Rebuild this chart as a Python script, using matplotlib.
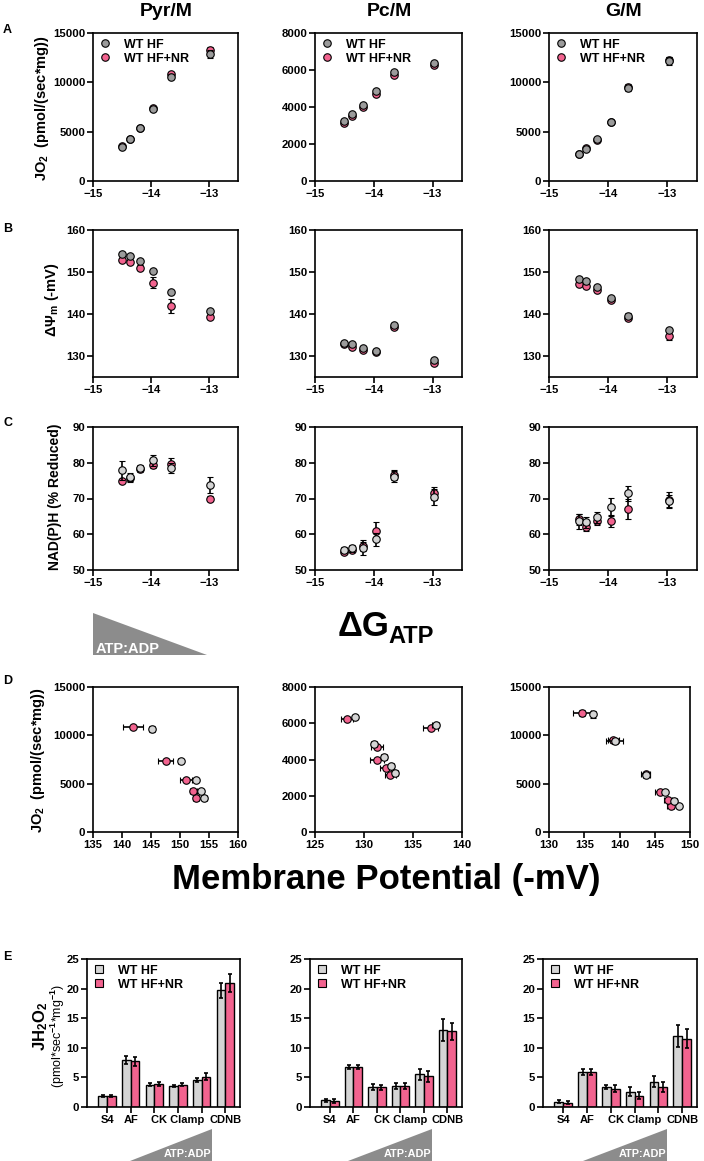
"""
 Recreation of a multi-panel respirometry figure (JO2, membrane potential,
 NAD(P)H redox and H2O2 emission for WT HF vs WT HF+NR)
"""

# Libraries
import matplotlib
matplotlib.use("Agg")
import matplotlib.pyplot as plt
from matplotlib.lines import Line2D
from matplotlib.patches import Polygon
import numpy as np

# Constants
W, H       = 704, 1161
GREY_DARK  = "#9b9b9b"
GREY_LIGHT = "#d4d4d4"
PINK       = "#f2638f"
TRI_COLOUR = "#8c8c8c"
MS         = 5.4

plt.rcParams["font.family"] = ["Liberation Sans", "DejaVu Sans"]
plt.rcParams["font.weight"] = "bold"
plt.rcParams["mathtext.fontset"] = "custom"
plt.rcParams["mathtext.rm"] = "Liberation Sans:bold"
plt.rcParams["mathtext.bf"] = "Liberation Sans:bold"
plt.rcParams["mathtext.it"] = "Liberation Sans:bold:italic"

# ---------------- Data ----------------
# Free energy of ATP hydrolysis (x for rows A-C)
dg_x = [-14.50, -14.37, -14.19, -13.96, -13.66, -12.98]

# Row A: JO2 (pmol/(sec*mg))
a_pyr_hf, a_pyr_hf_err = [3480, 4270, 5350, 7270, 10570, 12850], [100, 100, 120, 200, 250, 400]
a_pyr_nr, a_pyr_nr_err = [3500, 4300, 5400, 7350, 10850, 13300], [100, 100, 120, 200, 200, 250]
a_pc_hf,  a_pc_hf_err  = [3260, 3600, 4130, 4850, 5900, 6370], [80, 80, 80, 90, 100, 80]
a_pc_nr,  a_pc_nr_err  = [3150, 3500, 3980, 4700, 5750, 6280], [80, 80, 80, 90, 100, 80]
a_gm_hf,  a_gm_hf_err  = [2710, 3260, 4210, 5940, 9400, 12180], [100, 100, 100, 150, 300, 400]
a_gm_nr,  a_gm_nr_err  = [2750, 3300, 4200, 5950, 9550, 12300], [100, 100, 100, 150, 250, 300]

# Row B: membrane potential (-mV)
b_pyr_hf, b_pyr_hf_err = [154.3, 153.7, 152.7, 150.2, 145.2, 140.6], [0.4, 0.4, 0.4, 0.4, 0.4, 0.4]
b_pyr_nr, b_pyr_nr_err = [152.8, 152.4, 151.0, 147.5, 141.9, 139.3], [0.5, 0.5, 0.6, 1.2, 1.6, 0.5]
b_pc_hf,  b_pc_hf_err  = [133.2, 132.8, 132.0, 131.3, 137.3, 129.0], [0.3, 0.3, 0.3, 0.3, 0.4, 0.3]
b_pc_nr,  b_pc_nr_err  = [132.8, 132.2, 131.4, 131.0, 136.8, 128.4], [0.3, 0.3, 0.3, 0.3, 0.4, 0.3]
b_gm_hf,  b_gm_hf_err  = [148.3, 147.8, 146.4, 143.8, 139.5, 136.2], [0.4, 0.4, 0.4, 0.4, 0.8, 0.4]
b_gm_nr,  b_gm_nr_err  = [147.2, 146.7, 145.6, 143.4, 139.1, 134.8], [0.4, 0.4, 0.4, 0.4, 0.6, 1.0]

# Row C: NAD(P)H (% reduced)
c_pyr_hf, c_pyr_hf_err = [77.9, 76.0, 78.5, 80.7, 78.5, 73.7], [2.6, 1.0, 0.8, 1.5, 1.5, 2.3]
c_pyr_nr, c_pyr_nr_err = [74.8, 75.6, 78.3, 79.3, 79.7, 70.0], [0.6, 1.0, 0.8, 0.8, 1.5, 0.6]
c_pc_hf,  c_pc_hf_err  = [55.6, 56.1, 56.1, 58.6, 76.1, 70.5], [0.8, 1.0, 1.8, 1.8, 1.6, 2.2]
c_pc_nr,  c_pc_nr_err  = [55.0, 55.7, 56.8, 61.0, 76.6, 71.4], [0.6, 0.8, 1.5, 2.3, 1.3, 1.8]
c_gm_hf,  c_gm_hf_err  = [63.6, 63.3, 64.7, 67.6, 71.4, 69.2], [2.0, 1.6, 1.6, 2.6, 2.0, 1.8]
c_gm_nr,  c_gm_nr_err  = [64.2, 62.0, 63.6, 63.7, 67.0, 69.7], [1.5, 1.0, 1.0, 1.8, 2.8, 2.0]

# Row D: JO2 vs membrane potential
d_pyr_hf_x, d_pyr_hf_xerr = [154.2, 153.6, 152.7, 150.1, 145.2], [0.4, 0.4, 0.3, 0.5, 0.3]
d_pyr_hf_y, d_pyr_hf_yerr = [3480, 4260, 5350, 7300, 10640], [100, 100, 100, 200, 300]
d_pyr_nr_x, d_pyr_nr_xerr = [152.8, 152.3, 151.0, 147.5, 141.9], [0.5, 0.6, 1.0, 1.3, 1.7]
d_pyr_nr_y, d_pyr_nr_yerr = [3480, 4260, 5390, 7330, 10840], [100, 100, 100, 150, 150]
d_pc_hf_x,  d_pc_hf_xerr  = [133.2, 132.8, 132.0, 131.0, 137.3, 129.1], [0.3, 0.3, 0.3, 0.3, 0.4, 0.2]
d_pc_hf_y,  d_pc_hf_yerr  = [3260, 3640, 4140, 4870, 5920, 6370], [80, 80, 80, 90, 100, 80]
d_pc_nr_x,  d_pc_nr_xerr  = [132.7, 132.2, 131.3, 131.3, 136.8, 128.3], [0.6, 0.6, 0.7, 0.6, 0.8, 0.6]
d_pc_nr_y,  d_pc_nr_yerr  = [3150, 3510, 3980, 4690, 5760, 6260], [80, 80, 80, 90, 100, 80]
d_gm_hf_x,  d_gm_hf_xerr  = [148.4, 147.8, 146.5, 143.8, 139.3, 136.25], [0.3, 0.3, 0.3, 0.5, 1.2, 0.3]
d_gm_hf_y,  d_gm_hf_yerr  = [2670, 3220, 4160, 5920, 9420, 12160], [100, 100, 100, 200, 300, 400]
d_gm_nr_x,  d_gm_nr_xerr  = [147.3, 146.9, 145.7, 143.7, 139.1, 134.7], [0.5, 0.6, 0.7, 0.6, 0.8, 1.3]
d_gm_nr_y,  d_gm_nr_yerr  = [2700, 3290, 4160, 5950, 9500, 12330], [100, 100, 100, 150, 250, 300]

# Row E: JH2O2 bars
e_groups = ["S4", "AF", "", "CK Clamp", "", "CDNB"]
e_pyr_hf, e_pyr_hf_err = [1.87, 7.9, 3.8, 3.56, 4.58, 19.7], [0.15, 0.7, 0.2, 0.2, 0.4, 1.3]
e_pyr_nr, e_pyr_nr_err = [1.85, 7.7, 3.85, 3.8, 5.1, 20.9], [0.15, 0.7, 0.3, 0.2, 0.6, 1.5]
e_pc_hf,  e_pc_hf_err  = [1.13, 6.8, 3.4, 3.56, 5.5, 13.0], [0.3, 0.35, 0.45, 0.55, 0.9, 1.9]
e_pc_nr,  e_pc_nr_err  = [1.0, 6.7, 3.3, 3.5, 5.2, 12.8], [0.35, 0.35, 0.4, 0.5, 0.9, 1.4]
e_gm_hf,  e_gm_hf_err  = [0.9, 5.94, 3.4, 2.6, 4.3, 12.0], [0.3, 0.5, 0.4, 0.7, 0.9, 1.9]
e_gm_nr,  e_gm_nr_err  = [0.75, 5.85, 3.1, 1.9, 3.35, 11.5], [0.3, 0.5, 0.55, 0.6, 0.9, 1.6]

# ---------------- Helpers ----------------
fig = plt.figure(figsize=(W/100, H/100), dpi=100)

def fx(x): return x/W
def fy(y): return 1 - y/H

def add_axes(x0, y0, x1, y1):
    """Adds axes using pixel bounds measured from the top-left corner"""
    ax = fig.add_axes([fx(x0), fy(y1), (x1-x0)/W, (y1-y0)/H])
    for spine in ax.spines.values():
        spine.set_linewidth(1.2)
    ax.tick_params(direction="out", length=4, width=1.2, labelsize=8.2, pad=1.5)
    return ax

def scatter_pair(ax, x_hf, y_hf, x_nr, y_nr, grey, xerr_hf=None, yerr_hf=None, xerr_nr=None, yerr_nr=None):
    """Plots the NR group underneath the HF group with error bars"""
    style = dict(fmt="o", ms=MS, mec="black", mew=0.8, ecolor="black", elinewidth=1.2, capsize=2, capthick=1.2)
    ax.errorbar(x_nr, y_nr, xerr=xerr_nr, yerr=yerr_nr, mfc=PINK, zorder=3, **style)
    ax.errorbar(x_hf, y_hf, xerr=xerr_hf, yerr=yerr_hf, mfc=grey, zorder=4, **style)

def add_legend(ax, grey, marker):
    handles = [Line2D([], [], ls="", marker=marker, ms=MS, mfc=grey, mec="black", mew=0.8),
               Line2D([], [], ls="", marker=marker, ms=MS, mfc=PINK, mec="black", mew=0.8)]
    ax.legend(handles, ["WT HF", "WT HF+NR"], loc="upper left", frameon=False, fontsize=9,
              handlelength=1.0, handletextpad=1.0, labelspacing=0.15, borderaxespad=0.15, borderpad=0.3)

def add_triangle(pts, text, text_x, text_y, size, ha="left"):
    fig.add_artist(Polygon([(fx(x), fy(y)) for x, y in pts], closed=True, transform=fig.transFigure,
                           facecolor=TRI_COLOUR, edgecolor="none"))
    fig.text(fx(text_x), fy(text_y), text, color="white", fontsize=size, ha=ha, va="baseline")

# ---------------- Layout ----------------
cols = [(93, 238), (315, 462), (549, 697)]
col_titles = ["Pyr/M", "Pc/M", "G/M"]
for (x0, x1), title in zip(cols, col_titles):
    fig.text(fx((x0+x1)/2 + 0.5), fy(12), title, fontsize=14, ha="center", va="center")

# Row A
a_data = [(a_pyr_hf, a_pyr_hf_err, a_pyr_nr, a_pyr_nr_err, 15000, 5000),
          (a_pc_hf, a_pc_hf_err, a_pc_nr, a_pc_nr_err, 8000, 2000),
          (a_gm_hf, a_gm_hf_err, a_gm_nr, a_gm_nr_err, 15000, 5000)]
for (x0, x1), (hf, hfe, nr, nre, top, step) in zip(cols, a_data):
    ax = add_axes(x0, 33, x1, 181)
    scatter_pair(ax, dg_x, hf, dg_x, nr, GREY_DARK, yerr_hf=hfe, yerr_nr=nre)
    ax.set_xlim(-15, -12.5)
    ax.set_xticks([-15, -14, -13])
    ax.set_ylim(0, top)
    ax.set_yticks(np.arange(0, top+1, step))
    add_legend(ax, GREY_DARK, "o")

# Row B
b_data = [(b_pyr_hf, b_pyr_hf_err, b_pyr_nr, b_pyr_nr_err),
          (b_pc_hf, b_pc_hf_err, b_pc_nr, b_pc_nr_err),
          (b_gm_hf, b_gm_hf_err, b_gm_nr, b_gm_nr_err)]
for (x0, x1), (hf, hfe, nr, nre) in zip(cols, b_data):
    ax = add_axes(x0, 230, x1, 377)
    scatter_pair(ax, dg_x, hf, dg_x, nr, GREY_DARK, yerr_hf=hfe, yerr_nr=nre)
    ax.set_xlim(-15, -12.5)
    ax.set_xticks([-15, -14, -13])
    ax.set_ylim(125, 160)
    ax.set_yticks([130, 140, 150, 160])

# Row C
c_data = [(c_pyr_hf, c_pyr_hf_err, c_pyr_nr, c_pyr_nr_err),
          (c_pc_hf, c_pc_hf_err, c_pc_nr, c_pc_nr_err),
          (c_gm_hf, c_gm_hf_err, c_gm_nr, c_gm_nr_err)]
for (x0, x1), (hf, hfe, nr, nre) in zip(cols, c_data):
    ax = add_axes(x0, 427, x1, 570)
    scatter_pair(ax, dg_x, hf, dg_x, nr, GREY_LIGHT, yerr_hf=hfe, yerr_nr=nre)
    ax.set_xlim(-15, -12.5)
    ax.set_xticks([-15, -14, -13])
    ax.set_ylim(50, 90)
    ax.set_yticks([50, 60, 70, 80, 90])

# Row D
d_cols = [(93, 238), (315, 462), (549, 690)]
d_data = [(d_pyr_hf_x, d_pyr_hf_xerr, d_pyr_hf_y, d_pyr_hf_yerr, d_pyr_nr_x, d_pyr_nr_xerr, d_pyr_nr_y, d_pyr_nr_yerr, (135, 160), 15000, 5000),
          (d_pc_hf_x, d_pc_hf_xerr, d_pc_hf_y, d_pc_hf_yerr, d_pc_nr_x, d_pc_nr_xerr, d_pc_nr_y, d_pc_nr_yerr, (125, 140), 8000, 2000),
          (d_gm_hf_x, d_gm_hf_xerr, d_gm_hf_y, d_gm_hf_yerr, d_gm_nr_x, d_gm_nr_xerr, d_gm_nr_y, d_gm_nr_yerr, (130, 150), 15000, 5000)]
for (x0, x1), (hx, hxe, hy, hye, nx, nxe, ny, nye, xlim, top, step) in zip(d_cols, d_data):
    ax = add_axes(x0, 687, x1, 832)
    scatter_pair(ax, hx, hy, nx, ny, GREY_LIGHT, xerr_hf=hxe, yerr_hf=hye, xerr_nr=nxe, yerr_nr=nye)
    ax.set_xlim(*xlim)
    ax.set_xticks(np.arange(xlim[0], xlim[1]+1, 5))
    ax.set_ylim(0, top)
    ax.set_yticks(np.arange(0, top+1, step))

# Row E
e_cols = [(87, 240), (310, 462), (543, 697)]
e_data = [(e_pyr_hf, e_pyr_hf_err, e_pyr_nr, e_pyr_nr_err),
          (e_pc_hf, e_pc_hf_err, e_pc_nr, e_pc_nr_err),
          (e_gm_hf, e_gm_hf_err, e_gm_nr, e_gm_nr_err)]
bar_w = 0.37
for (x0, x1), (hf, hfe, nr, nre) in zip(e_cols, e_data):
    ax = add_axes(x0, 959, x1, 1107)
    pos = np.arange(len(e_groups))
    err_style = dict(ecolor="black", elinewidth=1.2, capsize=1.5, capthick=1.2)
    ax.bar(pos - bar_w/2, hf, bar_w, yerr=hfe, color=GREY_LIGHT, edgecolor="black", linewidth=1, error_kw=err_style)
    ax.bar(pos + bar_w/2, nr, bar_w, yerr=nre, color=PINK, edgecolor="black", linewidth=1, error_kw=err_style)
    ax.set_xlim(-0.85, 5.62)
    ax.set_xticks(pos)
    ax.set_xticklabels(e_groups, fontsize=8)
    ax.set_ylim(0, 25)
    ax.set_yticks([0, 5, 10, 15, 20, 25])
    add_legend(ax, GREY_LIGHT, "s")

# Axis labels
fig.text(fx(42), fy(108), "JO$_2$  (pmol/(sec*mg))", rotation=90, fontsize=10.5, ha="center", va="center")
fig.text(fx(52), fy(300), r"ΔΨ$_\mathrm{m}$ (-mV)", rotation=90, fontsize=10.5, ha="center", va="center")
fig.text(fx(55), fy(497), "NAD(P)H (% Reduced)", rotation=90, fontsize=10, ha="center", va="center")
fig.text(fx(38), fy(760), "JO$_2$  (pmol/(sec*mg))", rotation=90, fontsize=10.5, ha="center", va="center")
fig.text(fx(41), fy(1026), "JH$_2$O$_2$", rotation=90, fontsize=12, ha="center", va="center")
fig.text(fx(58), fy(1036), "(pmol*sec$^{-1}$*mg$^{-1}$)", rotation=90, fontsize=9,
         fontweight="normal", ha="center", va="center")

# Big shared x labels
fig.text(fx(338), fy(636), "ΔG", fontsize=25, ha="left", va="baseline")
fig.text(fx(388), fy(643), "ATP", fontsize=17, ha="left", va="baseline")
fig.text(fx(386), fy(880), "Membrane Potential (-mV)", fontsize=25, ha="center", va="center")

# Panel letters
for letter, y in zip("ABCDE", [30, 229, 423, 681, 957]):
    fig.text(fx(3), fy(y), letter, fontsize=9, ha="left", va="center")

# ATP:ADP triangles
add_triangle([(93, 613), (93, 655), (207, 655)], "ATP:ADP", 96, 653, 10.5)
for x0, x1 in [(130, 212), (348, 432), (583, 667)]:
    add_triangle([(x0, 1161), (x1, 1129), (x1, 1161)], "ATP:ADP", x1 - 1, 1157, 7.8, ha="right")

fig.savefig("out.png", dpi=100)
